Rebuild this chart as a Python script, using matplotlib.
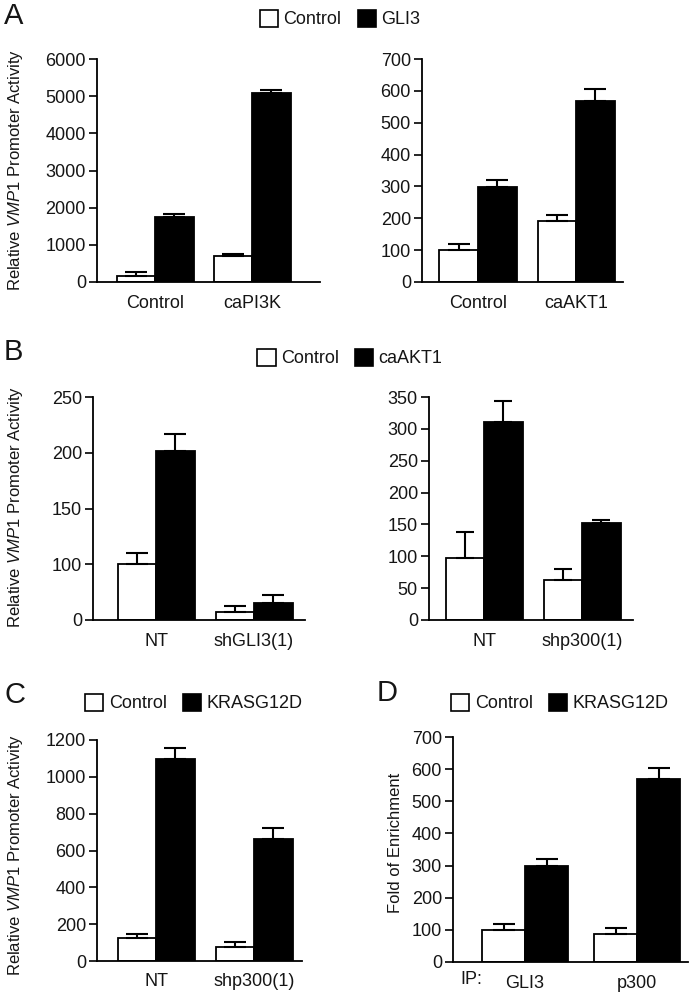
import numpy as np
import matplotlib
matplotlib.use("Agg")
import matplotlib.pyplot as plt
from matplotlib.patches import Patch

plt.rcParams['font.family'] = ['Liberation Sans', 'DejaVu Sans']
plt.rcParams['mathtext.fontset'] = 'custom'
plt.rcParams['mathtext.rm'] = 'Liberation Sans'
plt.rcParams['mathtext.it'] = 'Liberation Sans:italic'

# ---- data ----
a1_groups = ['Control', 'caPI3K']
a1_ctrl = [150, 690]
a1_ctrl_err = [115, 50]
a1_gli3 = [1740, 5080]
a1_gli3_err = [80, 95]

a2_groups = ['Control', 'caAKT1']
a2_ctrl = [100, 192]
a2_ctrl_err = [18, 18]
a2_gli3 = [299, 568]
a2_gli3_err = [21, 37]

b1_groups = ['NT', 'shGLI3(1)']
b1_ctrl = [100, 15]
b1_ctrl_err = [10, 10]
b1_akt = [202, 30]
b1_akt_err = [15, 15]

b2_groups = ['NT', 'shp300(1)']
b2_ctrl = [98, 63]
b2_ctrl_err = [40, 17]
b2_akt = [310, 153]
b2_akt_err = [34, 4]

c_groups = ['NT', 'shp300(1)']
c_ctrl = [123, 74]
c_ctrl_err = [24, 27]
c_kras = [1097, 661]
c_kras_err = [58, 63]

d_groups = ['GLI3', 'p300']
d_ctrl = [101, 86]
d_ctrl_err = [18, 19]
d_kras = [299, 570]
d_kras_err = [21, 34]

W, H = 693, 994
fig = plt.figure(figsize=(W / 100, H / 100), dpi=100)
TXT = '#151515'


def add_ax(left, right, top, bottom):
    return fig.add_axes([left / W, 1 - bottom / H, (right - left) / W, (bottom - top) / H])


def draw_panel(ax, groups, ctrl, ctrl_err, treat, treat_err, ylim, yticks,
               centers, x0, x1, bar_px, capsize=8):
    sp = centers[1] - centers[0]
    w = bar_px / sp
    x = np.arange(len(groups))
    ekw = dict(elinewidth=1.5, capthick=1.5, ecolor='black')
    ax.bar(x - w / 2, ctrl, w, color='white', edgecolor='black', linewidth=1.3,
           yerr=[np.zeros(len(ctrl)), ctrl_err], capsize=capsize, error_kw=ekw, zorder=2)
    ax.bar(x + w / 2, treat, w, color='black', edgecolor='black', linewidth=1.3,
           yerr=[np.zeros(len(treat)), treat_err], capsize=capsize, error_kw=ekw, zorder=2)
    ax.set_xlim((x0 - centers[0]) / sp, (x1 - centers[0]) / sp)
    ax.set_ylim(*ylim)
    ax.set_yticks(yticks)
    ax.set_xticks(x)
    ax.set_xticklabels(groups)
    for s in ['top', 'right']:
        ax.spines[s].set_visible(False)
    for s in ['left', 'bottom']:
        ax.spines[s].set_linewidth(1.3)
    ax.tick_params(axis='y', length=6, width=1.3, labelsize=13, pad=2, colors=TXT)
    ax.tick_params(axis='x', length=0, labelsize=13, pad=9, colors=TXT)
    ax.patch.set_alpha(0)


def legend(labels, cx, cy):
    handles = [Patch(facecolor='white', edgecolor='black', linewidth=1.2),
               Patch(facecolor='black', edgecolor='black', linewidth=1.2)]
    fig.legend(handles=handles, labels=labels, ncol=2, loc='center',
               bbox_to_anchor=(cx / W, 1 - cy / H), frameon=False,
               handlelength=1.0, handleheight=1.1, handletextpad=0.3,
               columnspacing=0.9, fontsize=13, borderpad=0, labelcolor=TXT)


ylab = r"Relative $\mathit{VMP1}$ Promoter Activity"

# ---- A ----
ax = add_ax(97, 320, 59, 282)
draw_panel(ax, a1_groups, a1_ctrl, a1_ctrl_err, a1_gli3, a1_gli3_err,
           (0, 6000), range(0, 6001, 1000), (155, 252), 97, 320, 38.5)
ax = add_ax(422, 623, 59, 282)
draw_panel(ax, a2_groups, a2_ctrl, a2_ctrl_err, a2_gli3, a2_gli3_err,
           (0, 700), range(0, 701, 100), (478, 576), 422, 623, 38.5)
legend(['Control', 'GLI3'], 340, 19)
fig.text(4 / W, 1 - 16 / H, 'A', fontsize=21, va='center', ha='left', color=TXT)
fig.text(16 / W, 1 - 170 / H, ylab, rotation=90, fontsize=12, va='center', ha='center', color=TXT)

# ---- B ----
def fwd(y):
    y = np.asarray(y, dtype=float)
    return np.where(y <= 100, y / 2, y - 50)


def inv(d):
    d = np.asarray(d, dtype=float)
    return np.where(d <= 50, d * 2, d + 50)


ax = add_ax(93, 305, 397, 620)
ax.set_yscale('function', functions=(fwd, inv))
draw_panel(ax, b1_groups, b1_ctrl, b1_ctrl_err, b1_akt, b1_akt_err,
           (0, 250), [0, 100, 150, 200, 250], (156, 254), 93, 305, 38.5)
ax.yaxis.set_minor_locator(matplotlib.ticker.NullLocator())
ax.yaxis.set_major_formatter(matplotlib.ticker.FormatStrFormatter('%d'))
ax = add_ax(429, 633, 397, 620)
draw_panel(ax, b2_groups, b2_ctrl, b2_ctrl_err, b2_akt, b2_akt_err,
           (0, 350), range(0, 351, 50), (484, 582), 429, 633, 38.5, capsize=6.5)
legend(['Control', 'caAKT1'], 350, 358)
fig.text(4 / W, 1 - 352 / H, 'B', fontsize=21, va='center', ha='left', color=TXT)
fig.text(16 / W, 1 - 507 / H, ylab, rotation=90, fontsize=12, va='center', ha='center', color=TXT)

# ---- C ----
ax = add_ax(97, 302, 740, 961)
draw_panel(ax, c_groups, c_ctrl, c_ctrl_err, c_kras, c_kras_err,
           (0, 1200), range(0, 1201, 200), (156, 254), 97, 302, 38.5)
legend(['Control', 'KRASG12D'], 194, 703)
fig.text(4 / W, 1 - 695 / H, 'C', fontsize=21, va='center', ha='left', color=TXT)
fig.text(16 / W, 1 - 855 / H, ylab, rotation=90, fontsize=12, va='center', ha='center', color=TXT)

# ---- D ----
ax = add_ax(453, 688, 737, 962)
draw_panel(ax, d_groups, d_ctrl, d_ctrl_err, d_kras, d_kras_err,
           (0, 700), range(0, 701, 100), (525, 637), 453, 688, 43)
ax.get_xticklabels()[0].set_x(-0.07)
ax.text(-0.48, -0.04, 'IP:', transform=ax.get_xaxis_transform(), fontsize=13,
        ha='center', va='top', color=TXT)
legend(['Control', 'KRASG12D'], 560, 703)
fig.text(377 / W, 1 - 693 / H, 'D', fontsize=21, va='center', ha='left', color=TXT)
fig.text(395 / W, 1 - 843 / H, 'Fold of Enrichment', rotation=90, fontsize=12,
         va='center', ha='center', color=TXT)

fig.savefig('out.png', dpi=100)
